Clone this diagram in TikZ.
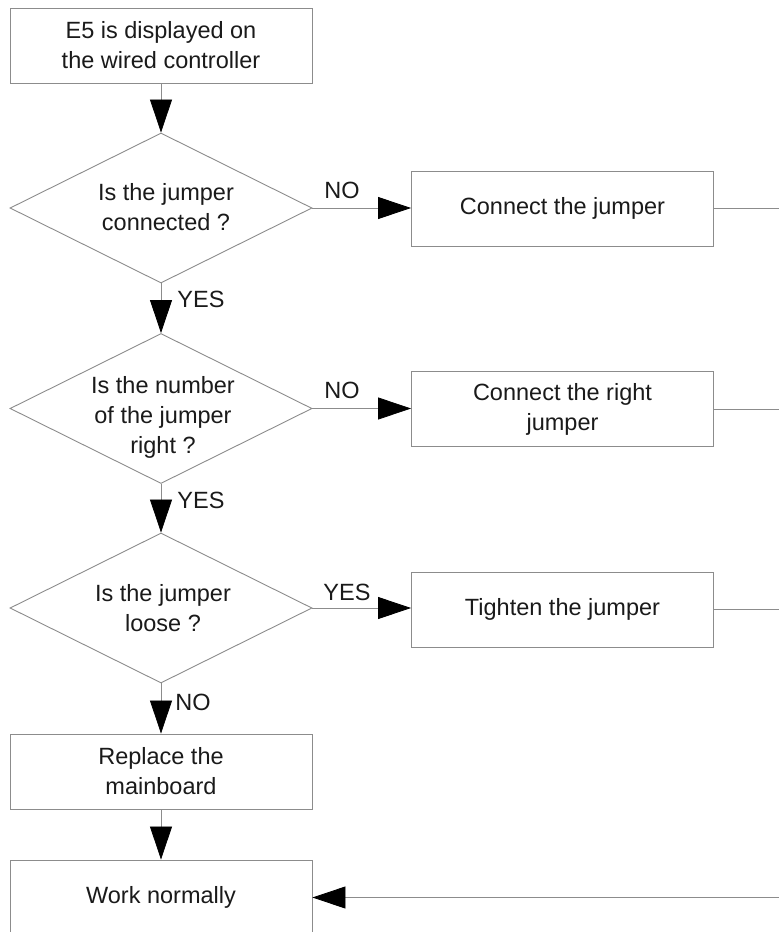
\documentclass[tikz,border=0pt]{standalone}
\usepackage{fontspec}
\setmainfont{Liberation Sans}
\usetikzlibrary{shapes.geometric,arrows.meta}
\definecolor{linec}{HTML}{8C8C8C}
\definecolor{txtc}{HTML}{1A1A1A}
\tikzset{
  every node/.style={text=txtc, font=\fontsize{23.5}{30}\selectfont},
  box/.style={draw=linec, line width=0.9pt, rectangle, minimum width=302pt, minimum height=75pt, inner sep=0pt, align=center},
  decision/.style={draw=linec, line width=0.9pt, diamond, minimum width=302pt, minimum height=150pt, inner sep=0pt},
  conn/.style={draw=linec, line width=0.8pt},
  arr/.style={conn, -{Triangle[length=33pt,width=22pt,fill=black,color=black]}},
  lbl/.style={inner sep=0pt, anchor=center}
}
\begin{document}
\begin{tikzpicture}[x=1pt,y=-1pt]
\useasboundingbox (0,0) rectangle (779,932);
\clip (0,0) rectangle (779,932);
\fill[white] (0,0) rectangle (779,932);

\node[box] (start) at (161,45.5) {E5 is displayed on\\the wired controller};

\node[decision] (d1) at (161,208) {};
\node[align=center] (t1) at (166,207) {Is the jumper\\connected ?};
\node[box] (b1) at (562.5,208.5) {Connect the jumper};

\node[decision] (d2) at (161,408.5) {};
\node[align=center] (t2) at (163,417) {Is the number\\of the jumper\\right ?};
\node[box] (b2) at (562.5,409) {Connect the right\\jumper};

\node[decision] (d3) at (161,608) {};
\node[align=center] (t3) at (163,608) {Is the jumper\\loose ?};
\node[box] (b3) at (562.5,609.5) {Tighten the jumper};

\node[box] (b4) at (161,771.5) {Replace the\\mainboard};
\node[box] (b5) at (161,897.5) {Work normally};

\coordinate (r1) at (779,208.5);
\coordinate (r2) at (779,409);
\coordinate (r3) at (779,609.5);
\coordinate (r5) at (779,897.5);

\draw[arr] (start.south) -- (d1.north);
\draw[arr] (d1.east) -- (d1.east -| b1.west);
\draw[conn] (b1.east) -- (r1);
\draw[arr] (d1.south) -- (d2.north);
\draw[arr] (d2.east) -- (d2.east -| b2.west);
\draw[conn] (b2.east) -- (r2);
\draw[arr] (d2.south) -- (d3.north);
\draw[arr] (d3.east) -- (d3.east -| b3.west);
\draw[conn] (b3.east) -- (r3);
\draw[arr] (d3.south) -- (b4.north);
\draw[arr] (b4.south) -- (b5.north);
\draw[arr] (r5) -- (b5.east);

\node[lbl] (l1) at (342,190) {NO};
\node[lbl] (l2) at (201,299) {YES};
\node[lbl] (l3) at (342,390) {NO};
\node[lbl] (l4) at (201,500) {YES};
\node[lbl] (l5) at (347,592) {YES};
\node[lbl] (l6) at (193,702) {NO};
\end{tikzpicture}
\end{document}
